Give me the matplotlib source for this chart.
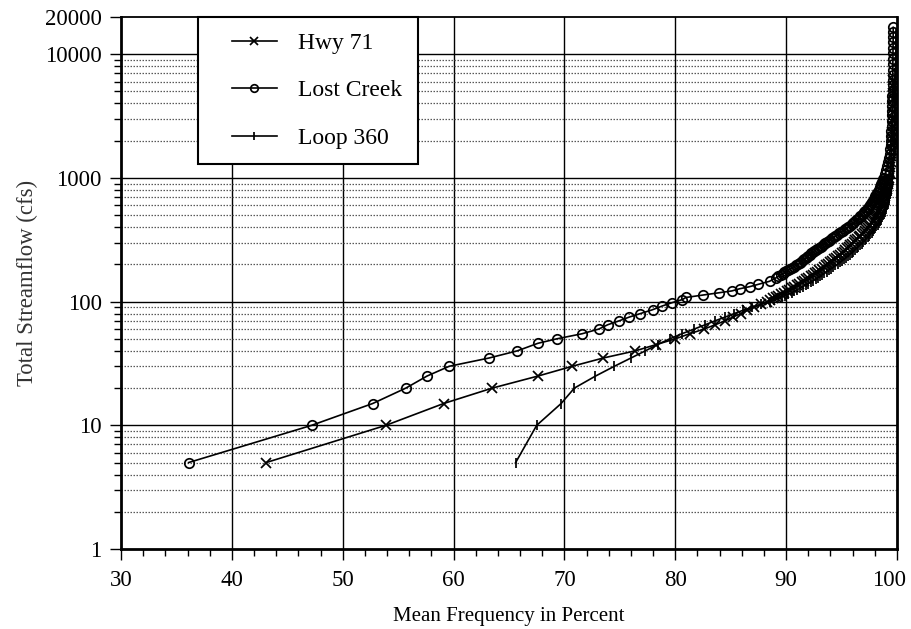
import matplotlib
matplotlib.use("Agg")
import matplotlib.pyplot as plt
import matplotlib.transforms as mtransforms
from matplotlib.legend_handler import HandlerLine2D
from matplotlib.ticker import FixedLocator, NullFormatter, MultipleLocator

plt.rcParams['font.family'] = ['Liberation Serif', 'DejaVu Serif']

# flow duration data: total streamflow (cfs) vs. mean frequency (%)
hwy71_flow = [5, 10, 15, 20, 25, 30, 35, 40, 45, 50, 55, 60, 65, 70, 75, 80, 85, 90, 95,
              100, 103, 106, 109, 112, 115, 118, 121, 125, 128, 132, 136, 140, 144, 148, 152,
              156, 160, 165, 170, 175, 180, 185, 190, 196, 202, 208, 214, 220, 226, 233, 240,
              247, 254, 262, 270, 278, 286, 295, 304, 313, 322, 332, 342, 352, 362, 373, 384,
              395, 407, 420, 432, 445, 458, 472, 486, 500, 515, 530, 547, 565, 582, 600, 620,
              640, 662, 685, 710, 735, 762, 790, 820, 850, 885, 920, 960, 1000,
              1100, 1220, 1350, 1500, 1680, 1880, 2100, 2350, 2650, 3000, 3400, 3850, 4350,
              4900, 5500, 6200]
hwy71_pct = [43.1, 53.9, 59.1, 63.5, 67.6, 70.7, 73.5, 76.4, 78.3, 80.0, 81.3, 82.6, 83.6, 84.5,
             85.2, 85.9, 86.5, 87.1, 87.7,
             88.3, 88.55, 88.8, 89.05, 89.3, 89.55, 89.8, 90.05, 90.3, 90.52, 90.75, 90.98,
             91.2, 91.4, 91.6, 91.8, 92.0, 92.2, 92.4, 92.6, 92.8, 93.0, 93.2, 93.4, 93.6,
             93.8, 94.0, 94.18, 94.35, 94.52, 94.7, 94.88, 95.05, 95.2, 95.35, 95.5, 95.65,
             95.8, 95.95, 96.1, 96.25, 96.4, 96.55, 96.7, 96.85, 96.98, 97.1, 97.22, 97.35,
             97.48, 97.6, 97.7, 97.8, 97.9, 98.0, 98.08, 98.15, 98.22, 98.3, 98.38, 98.45,
             98.52, 98.58, 98.64, 98.7, 98.76, 98.82, 98.88, 98.93, 98.98, 99.03, 99.08,
             99.12, 99.16, 99.2, 99.24, 99.27,
             99.34, 99.4, 99.45, 99.49, 99.52, 99.55, 99.57, 99.59, 99.61, 99.62, 99.63,
             99.64, 99.65, 99.66, 99.67, 99.68]

lost_creek_flow = [5, 10, 15, 20, 25, 30, 35, 40, 46, 50, 55, 60, 65, 70, 75, 80, 86, 92, 98,
                   104, 108, 113, 118, 122, 127, 132, 138, 146,
                   156, 160, 165, 168, 172, 176, 180, 184, 188, 192, 196, 200, 205, 210, 215,
                   220, 225, 230, 235, 240, 245, 250, 255, 260, 265, 271, 277, 283, 290, 296,
                   303, 310, 317, 324, 332, 340, 348, 356, 365, 374, 383, 392, 402, 412, 422,
                   432, 443, 454, 465, 477, 490, 502, 515, 527, 540, 555, 570, 585, 600, 617,
                   635, 652, 670, 690, 710, 730, 750, 775, 800, 825, 850, 875, 900, 925, 950,
                   975, 1000,
                   1070, 1150, 1240, 1340, 1450, 1570, 1700, 1850, 2000, 2200, 2400, 2650, 2900,
                   3200, 3500, 3850, 4200, 4600, 5100, 5600, 6200, 6800, 7500, 8300, 9200,
                   10200, 11300, 12500, 13800, 15200, 16500]
lost_creek_pct = [36.1, 47.2, 52.7, 55.7, 57.6, 59.6, 63.2, 65.75, 67.6, 69.3, 71.6, 73.1, 73.9,
                  74.95, 75.85, 76.85, 77.95, 78.8, 79.7, 80.65, 80.95, 82.5, 83.95, 85.1, 85.8,
                  86.7, 87.5, 88.5,
                  89.1, 89.3, 89.5, 89.68, 89.85, 90.02, 90.2, 90.38, 90.55, 90.72, 90.9, 91.07,
                  91.25, 91.38, 91.5, 91.63, 91.75, 91.88, 92.0, 92.13, 92.25, 92.38, 92.5,
                  92.65, 92.8, 92.95, 93.1, 93.25, 93.4, 93.55, 93.7, 93.83, 93.95, 94.12, 94.3,
                  94.45, 94.6, 94.78, 94.95, 95.12, 95.3, 95.45, 95.6, 95.75, 95.9, 96.02,
                  96.15, 96.3, 96.45, 96.58, 96.7, 96.83, 96.95, 97.05, 97.15, 97.25, 97.35,
                  97.45, 97.55, 97.65, 97.75, 97.83, 97.9, 97.98, 98.05, 98.13, 98.2, 98.28,
                  98.35, 98.43, 98.5, 98.55, 98.6, 98.66, 98.72, 98.77, 98.82,
                  98.95, 99.05, 99.13, 99.2, 99.27, 99.33, 99.38, 99.42, 99.45, 99.48, 99.5,
                  99.52, 99.54, 99.55, 99.56, 99.57, 99.58, 99.59, 99.6, 99.6, 99.61, 99.62,
                  99.62, 99.63, 99.63, 99.64, 99.64, 99.65, 99.65, 99.66, 99.66]

loop360_flow = [5, 10, 15, 20, 25, 30, 35, 40, 45, 50, 55, 60, 65, 70, 75, 80, 85, 90, 95,
                100, 103, 106, 109, 112, 115, 118, 121, 125, 128, 132, 136, 140, 144, 148, 152,
                156, 160, 165, 170, 175, 180, 185, 190, 196, 202, 208, 214, 220, 226, 233, 240,
                247, 254, 262, 270, 278, 286, 295, 304, 313, 322, 332, 342, 352, 362, 373, 384,
                395, 407, 420, 432, 445, 458, 472, 486, 500, 515, 530, 547, 565, 582, 600, 620,
                640, 662, 685, 710, 735, 762, 790, 820, 850, 885, 920, 960, 1000,
                1100, 1220, 1350, 1500, 1680, 1880, 2100, 2350, 2650, 3000, 3400, 3850, 4350,
                4900, 5500, 6200, 7000, 8000, 9000, 10200, 11500, 13000, 14500]
loop360_pct = [65.6, 67.5, 69.7, 70.9, 72.8, 74.5, 76.0, 77.3, 78.4, 79.5, 80.6, 81.7, 82.7, 83.6,
               84.5, 85.3, 86.1, 86.9, 87.7,
               88.5, 88.9, 89.3, 89.6, 89.9, 90.2, 90.5, 90.75, 91.0, 91.25, 91.5, 91.75, 92.0,
               92.22, 92.45, 92.65, 92.85, 93.05, 93.25, 93.45, 93.65, 93.85, 94.05, 94.25,
               94.45, 94.65, 94.85, 95.02, 95.2, 95.38, 95.55, 95.72, 95.9, 96.05, 96.2, 96.35,
               96.5, 96.65, 96.8, 96.95, 97.1, 97.22, 97.35, 97.48, 97.6, 97.72, 97.85, 97.95,
               98.05, 98.15, 98.25, 98.34, 98.43, 98.52, 98.6, 98.68, 98.75, 98.82, 98.88,
               98.94, 99.0, 99.05, 99.1, 99.15, 99.2, 99.24, 99.28, 99.32, 99.36, 99.4, 99.43,
               99.46, 99.49, 99.52, 99.54, 99.56, 99.58,
               99.62, 99.65, 99.68, 99.7, 99.72, 99.74, 99.76, 99.77, 99.78, 99.79, 99.8,
               99.81, 99.82, 99.83, 99.84, 99.85, 99.86, 99.87, 99.88, 99.89, 99.9, 99.91,
               99.92]

x_ticks = [30, 40, 50, 60, 70, 80, 90, 100]
y_ticks = [1, 10, 100, 1000, 10000, 20000]
y_tick_labels = ['1', '10', '100', '1000', '10000', '20000']

fig = plt.figure(figsize=(9.11, 6.29), dpi=100)
ax = fig.add_axes([121 / 911, 1 - 549 / 629, 776 / 911, 532 / 629])

line_kw = dict(color='black', lw=1.2, mew=1.25, mfc='none')
ax.plot(hwy71_pct, hwy71_flow, marker='x', ms=7, label='Hwy 71', **line_kw)
ax.plot(lost_creek_pct, lost_creek_flow, marker='o', ms=6.8, label='Lost Creek', **line_kw)
ax.plot(loop360_pct, loop360_flow, marker='|', ms=7, label='Loop 360', **line_kw)

ax.set_yscale('log')
ax.set_xlim(30, 100)
ax.set_ylim(1, 20000)

ax.yaxis.set_major_locator(FixedLocator(y_ticks))
ax.set_yticklabels(y_tick_labels)
minor_y = [m * 10 ** e for e in range(0, 4) for m in range(2, 10)]
ax.yaxis.set_minor_locator(FixedLocator(minor_y))
ax.yaxis.set_minor_formatter(NullFormatter())
ax.xaxis.set_major_locator(FixedLocator(x_ticks))
ax.xaxis.set_minor_locator(MultipleLocator(2))

# grid: solid decades and tens, dotted gray for the in-between values
for v in [10, 100, 1000, 10000]:
    ax.axhline(v, color='black', lw=1.0, zorder=1)
for v in x_ticks[1:-1]:
    ax.axvline(v, color='black', lw=1.0, zorder=1)
for v in minor_y:
    ax.axhline(v, color='0.35', lw=0.9, ls=(0, (1.2, 1.2)), zorder=1)

ax.tick_params(axis='both', which='major', direction='out', length=8, width=1.0,
               labelsize=16.5)
ax.tick_params(axis='x', which='major', pad=7)
ax.tick_params(axis='y', which='major', pad=6)
ax.tick_params(axis='both', which='minor', direction='out', length=5, width=1.0)

# the last x label sits a little left of its tick so it stays inside the figure
last = ax.get_xticklabels()[-1]
last.set_transform(last.get_transform() +
                   mtransforms.ScaledTranslation(-8 / 100, 0, fig.dpi_scale_trans))

for side in ['left', 'bottom', 'right']:
    ax.spines[side].set_linewidth(2.0)
ax.spines['top'].set_linewidth(1.3)

ax.set_xlabel('Mean Frequency in Percent', fontsize=15, labelpad=11.5)
ax.set_ylabel('Total Streamflow (cfs)', fontsize=16.4, color='#333333', labelpad=5)

leg = ax.legend(loc='upper left', bbox_to_anchor=(0.099, 1.0), fontsize=17, frameon=True,
                fancybox=False, edgecolor='black', framealpha=1, borderpad=0.65,
                labelspacing=1.1, handlelength=2.7, handletextpad=0.9, markerscale=0.8,
                borderaxespad=0, handler_map={plt.Line2D: HandlerLine2D(xpad=0.8)})
leg.get_frame().set_linewidth(1.5)
leg.set_zorder(5)

fig.savefig('out.png', dpi=100)
